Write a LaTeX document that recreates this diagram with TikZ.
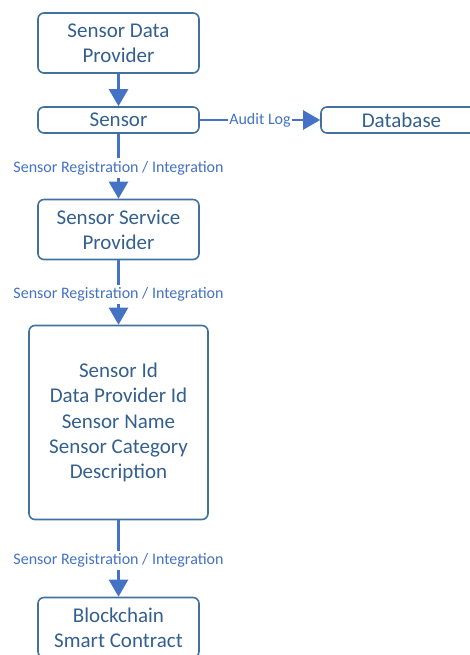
\documentclass[tikz,border=0pt]{standalone}
\usepackage{fontspec}
\setmainfont{Carlito}
\usetikzlibrary{arrows.meta}
\definecolor{boxline}{RGB}{65,113,156}
\definecolor{boxtext}{RGB}{52,96,142}
\definecolor{flow}{RGB}{68,114,196}
\tikzset{
  box/.style={draw=boxline, line width=1.6pt, rounded corners=6pt, fill=white,
    text=boxtext, align=center, minimum width=161pt, inner sep=0pt,
    font=\fontsize{21}{25.3}\selectfont},
  flowline/.style={draw=flow, line width=2.4pt,
    -{Triangle[length=17pt,width=19pt]}},
  flowlabel/.style={fill=white, text=flow, inner xsep=1pt, inner ysep=3pt,
    font=\fontsize{16}{18}\selectfont, yshift=-2pt}
}
\begin{document}
\begin{tikzpicture}[x=1pt,y=-1pt]
\useasboundingbox (0,0) rectangle (470,655);
\node[box, minimum height=60pt] (provider) at (118.5,43) {Sensor Data\\Provider};
\node[box, minimum height=26pt] (sensor) at (118.5,120) {Sensor};
\node[box, minimum height=26pt] (db) at (401.5,120) {Database};
\node[box, minimum height=60pt] (service) at (118.5,229.5) {Sensor Service\\Provider};
\node[box, minimum width=179pt, minimum height=194pt] (record) at (118.5,422.5)
  {Sensor Id\\Data Provider Id\\Sensor Name\\Sensor Category\\Description};
\node[box, minimum height=60pt] (chain) at (118.5,627.5) {Blockchain\\Smart Contract};

\draw[flowline] (provider) -- (sensor);
\draw[flowline] (sensor) -- node[flowlabel, yshift=2pt] (auditlbl) {Audit Log} (db);
\draw[flowline] (sensor) -- node[flowlabel] (reg1) {Sensor Registration / Integration} (service);
\draw[flowline] (service) -- node[flowlabel] (reg2) {Sensor Registration / Integration} (record);
\draw[flowline] (record) -- node[flowlabel] (reg3) {Sensor Registration / Integration} (chain);
\end{tikzpicture}
\end{document}
